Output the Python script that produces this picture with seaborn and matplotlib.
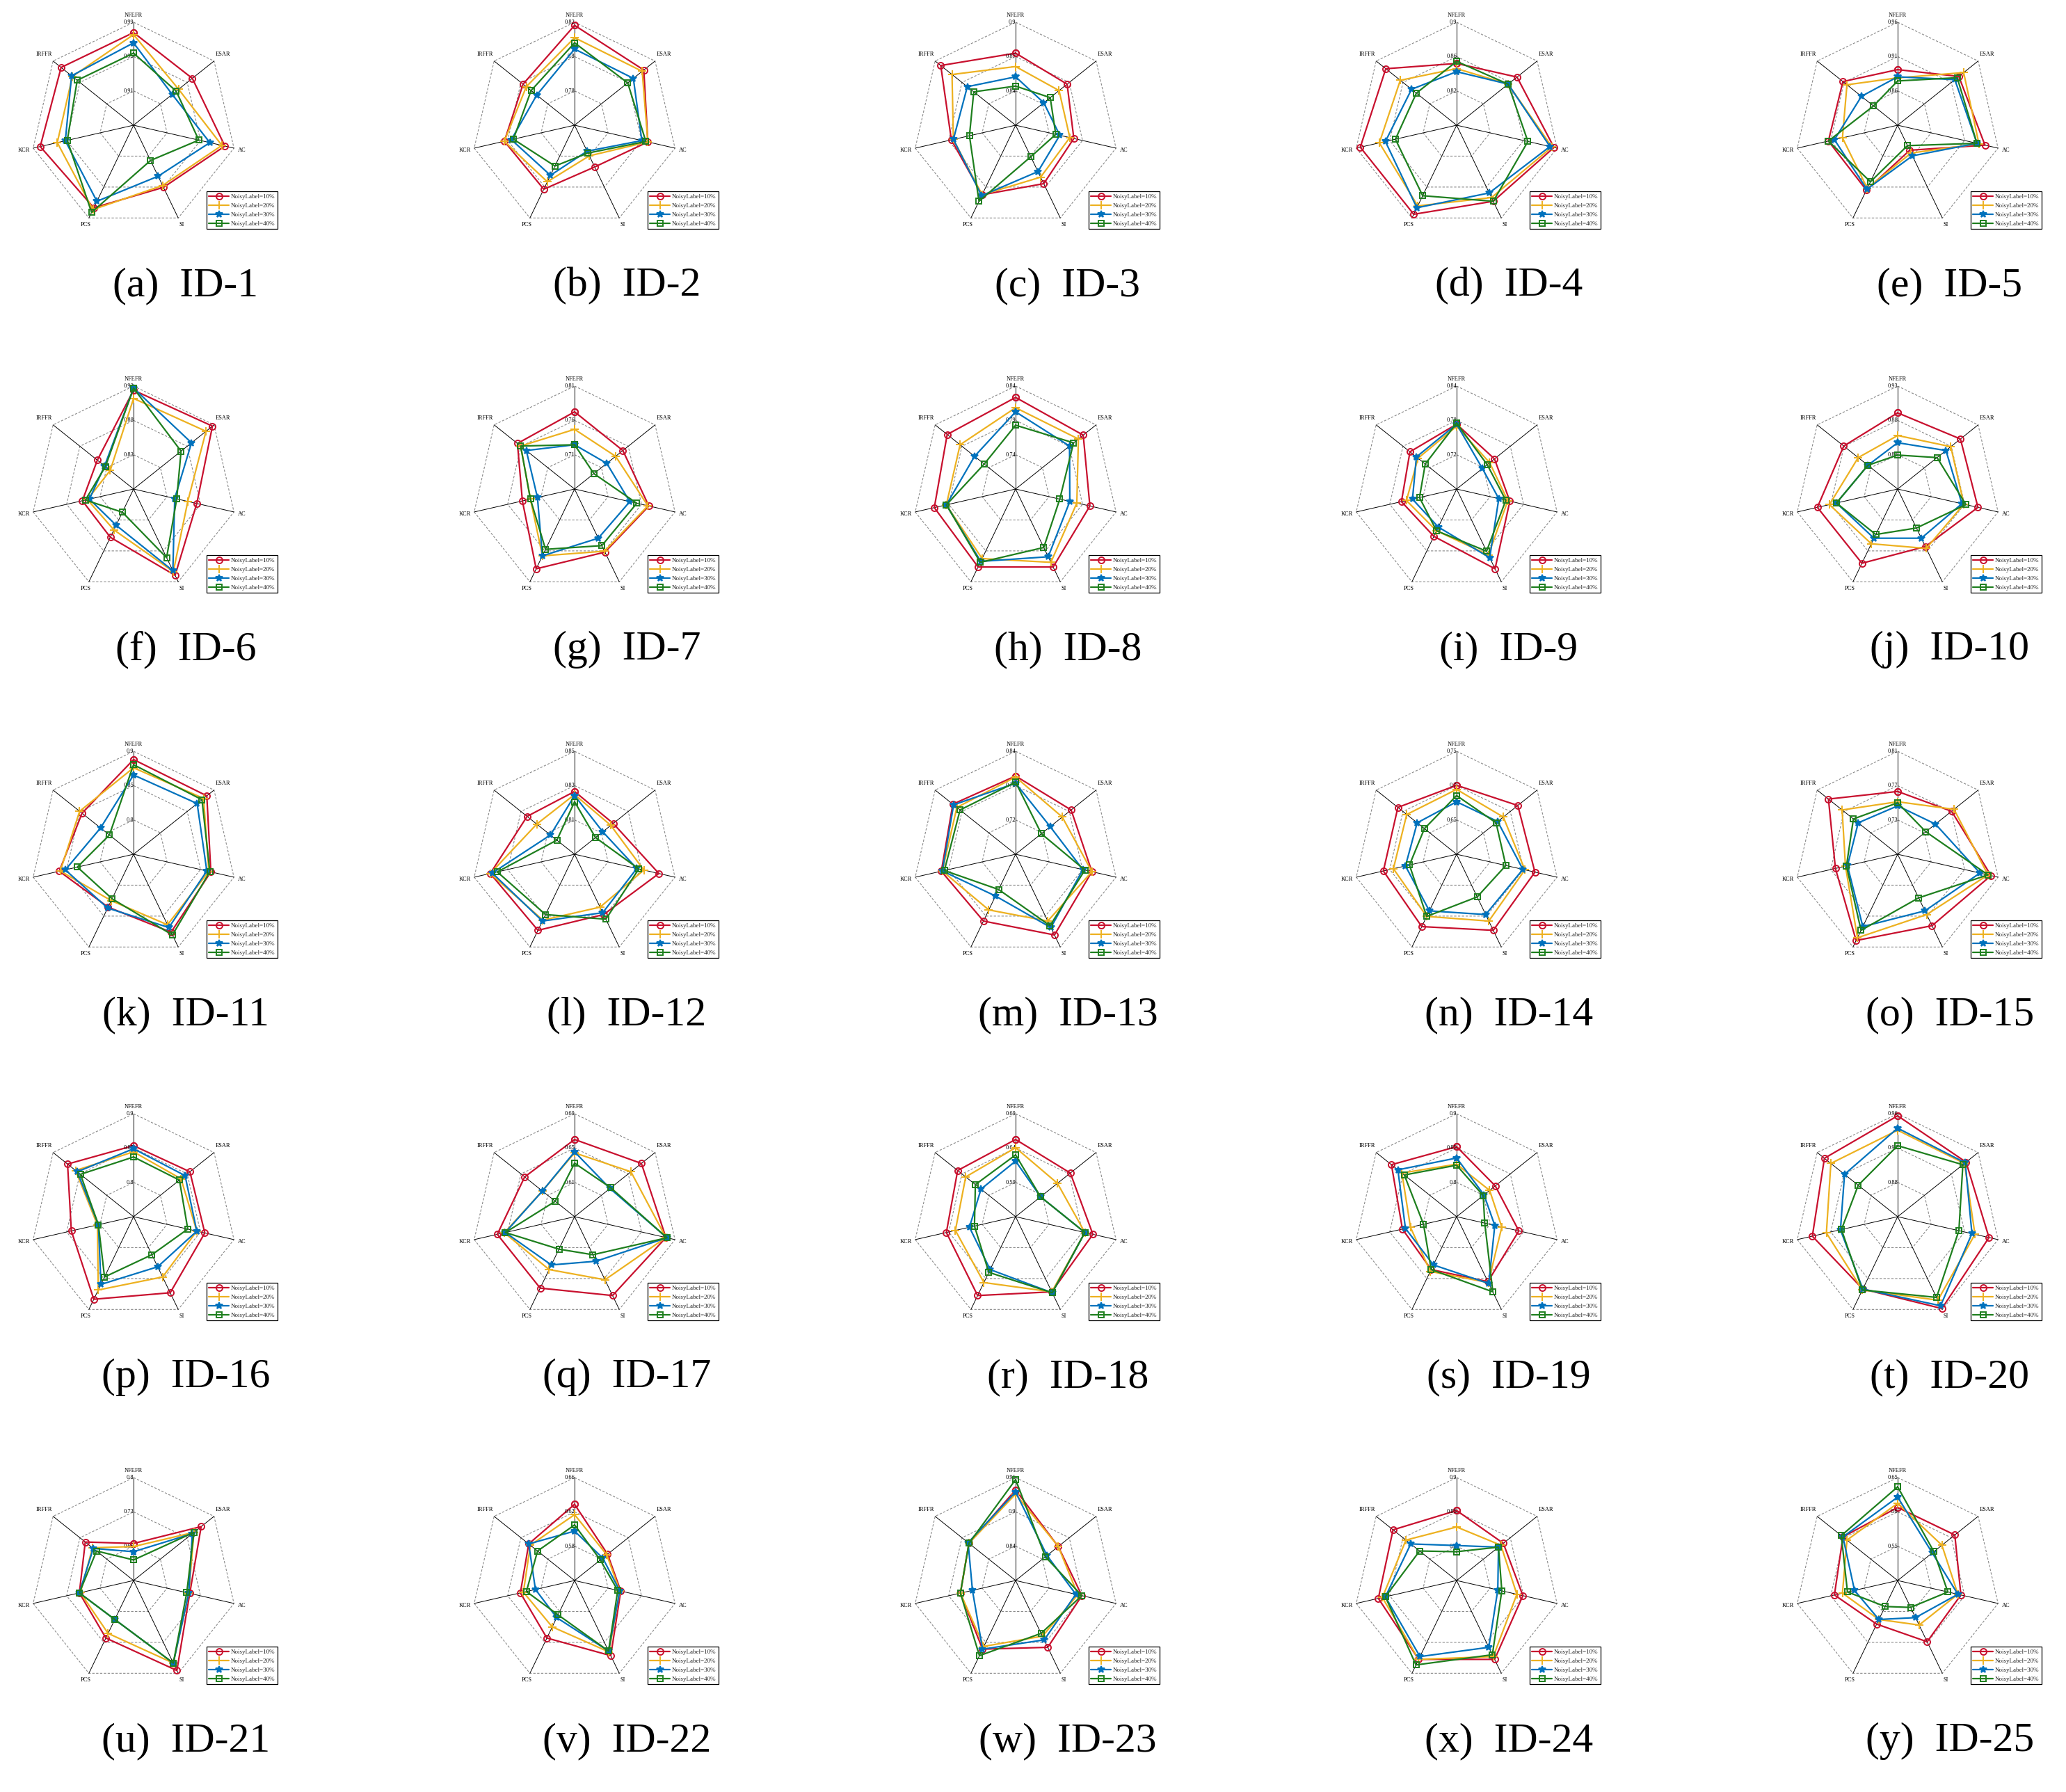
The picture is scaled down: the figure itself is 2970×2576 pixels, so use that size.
import numpy as np
import matplotlib
matplotlib.use("Agg")
import matplotlib.pyplot as plt
import seaborn as sns
import pandas as pd

# ---------------- data ----------------
metrics = ["NFEFR", "ESAR", "AC", "SI", "PCS", "KCR", "IRFFR"]
series_labels = ["NoisyLabel=10%", "NoisyLabel=20%", "NoisyLabel=30%", "NoisyLabel=40%"]
panel_letters = list("abcdefghijklmnopqrstuvwxy")
panel_ids = ["ID-%d" % k for k in range(1, 26)]

# radial tick labels per panel (outer ring, middle ring, inner ring)
tick_labels = [
    ("0.99", "0.95", "0.91"), ("0.82", "0.8", "0.78"), ("0.9", "0.87", "0.84"),
    ("0.9", "0.86", "0.82"), ("0.96", "0.91", "0.86"),
    ("0.93", "0.88", "0.83"), ("0.81", "0.76", "0.71"), ("0.84", "0.79", "0.74"),
    ("0.84", "0.78", "0.72"), ("0.93", "0.88", "0.83"),
    ("0.9", "0.85", "0.8"), ("0.85", "0.83", "0.81"), ("0.84", "0.78", "0.72"),
    ("0.75", "0.7", "0.65"), ("0.81", "0.77", "0.73"),
    ("0.9", "0.85", "0.8"), ("0.69", "0.65", "0.61"), ("0.69", "0.64", "0.59"),
    ("0.9", "0.85", "0.8"), ("0.96", "0.92", "0.88"),
    ("0.8", "0.73", "0.66"), ("0.66", "0.62", "0.58"), ("0.96", "0.9", "0.84"),
    ("0.9", "0.85", "0.8"), ("0.65", "0.6", "0.55"),
]

# scores as position on the radial scale (0 = centre, 1 = outer ring)
# order: NFEFR, ESAR, AC, SI, PCS, KCR, IRFFR
nl10 = [
    [.90, .73, .91, .67, .89, .93, .90], [.97, .86, .73, .45, .69, .70, .64],
    [.70, .64, .58, .63, .75, .64, .93], [.60, .75, .97, .82, .96, .96, .88],
    [.54, .76, .87, .27, .70, .69, .68],
    [.96, .98, .63, .93, .52, .51, .45], [.75, .60, .74, .68, .86, .52, .71],
    [.89, .84, .74, .84, .84, .81, .85], [.63, .47, .53, .86, .51, .55, .58],
    [.74, .78, .80, .62, .80, .80, .67],
    [.92, .91, .77, .84, .57, .74, .64], [.61, .48, .84, .65, .82, .84, .59],
    [.76, .69, .76, .87, .72, .74, .78], [.67, .76, .78, .82, .78, .73, .73],
    [.61, .67, .93, .77, .93, .62, .86],
    [.69, .70, .71, .82, .89, .62, .82], [.75, .83, .91, .85, .77, .77, .62],
    [.75, .68, .77, .81, .85, .69, .72], [.68, .48, .62, .70, .57, .54, .81],
    [.98, .85, .91, .99, .78, .85, .91],
    [.36, .84, .56, .97, .62, .54, .60], [.74, .41, .46, .81, .62, .54, .57],
    [.88, .53, .66, .72, .74, .55, .58], [.68, .58, .66, .85, .85, .78, .79],
    [.71, .71, .63, .66, .47, .63, .68],
]
nl20 = [
    [.88, .56, .88, .65, .91, .76, .76], [.85, .84, .73, .33, .61, .70, .60],
    [.57, .54, .54, .56, .75, .62, .79], [.55, .64, .95, .78, .87, .77, .70],
    [.46, .82, .81, .30, .68, .55, .63],
    [.88, .90, .54, .89, .44, .46, .29], [.58, .51, .73, .67, .72, .44, .67],
    [.79, .78, .61, .79, .75, .69, .69], [.61, .41, .51, .71, .45, .50, .48],
    [.52, .66, .66, .64, .59, .68, .49],
    [.84, .87, .75, .76, .50, .73, .67], [.58, .45, .69, .57, .71, .84, .47],
    [.75, .58, .76, .72, .60, .73, .73], [.63, .58, .68, .72, .67, .63, .62],
    [.51, .70, .90, .65, .90, .52, .69],
    [.63, .59, .63, .65, .79, .36, .72], [.62, .70, .91, .68, .57, .70, .40],
    [.67, .52, .69, .81, .71, .60, .62], [.51, .41, .45, .71, .59, .46, .68],
    [.84, .83, .77, .90, .79, .71, .83],
    [.33, .75, .55, .89, .57, .53, .51], [.64, .40, .45, .77, .50, .51, .55],
    [.84, .53, .62, .60, .71, .55, .58], [.52, .55, .60, .82, .85, .74, .63],
    [.75, .55, .60, .48, .42, .55, .63],
]
nl30 = [
    [.80, .48, .76, .55, .82, .68, .77], [.74, .73, .67, .28, .54, .63, .47],
    [.47, .35, .44, .50, .76, .62, .60], [.52, .64, .93, .73, .89, .71, .56],
    [.47, .71, .79, .33, .69, .63, .45],
    [.98, .72, .41, .88, .39, .44, .36], [.43, .40, .55, .53, .72, .37, .60],
    [.75, .67, .54, .73, .78, .69, .51], [.63, .32, .42, .74, .41, .44, .50],
    [.45, .60, .64, .53, .53, .61, .37],
    [.77, .79, .73, .79, .58, .68, .41], [.57, .35, .62, .63, .72, .82, .30],
    [.69, .43, .67, .79, .45, .73, .77], [.51, .51, .66, .65, .61, .51, .49],
    [.47, .47, .82, .61, .78, .50, .49],
    [.66, .64, .63, .54, .73, .35, .70], [.63, .44, .92, .48, .52, .69, .40],
    [.54, .31, .69, .82, .57, .46, .43], [.57, .34, .38, .72, .52, .51, .73],
    [.86, .84, .74, .96, .78, .57, .66],
    [.28, .73, .55, .89, .42, .54, .50], [.48, .35, .45, .76, .40, .39, .57],
    [.86, .39, .60, .64, .74, .43, .59], [.34, .52, .41, .72, .82, .71, .57],
    [.81, .43, .60, .40, .42, .43, .68],
]
nl40 = [
    [.70, .53, .65, .38, .94, .66, .70], [.80, .66, .71, .30, .44, .61, .54],
    [.38, .43, .40, .34, .82, .46, .52], [.62, .64, .71, .82, .76, .61, .50],
    [.43, .74, .79, .22, .61, .69, .30],
    [.98, .59, .43, .74, .25, .48, .35], [.43, .24, .62, .61, .65, .44, .67],
    [.62, .72, .44, .63, .79, .69, .39], [.64, .38, .49, .67, .45, .37, .39],
    [.33, .49, .68, .42, .49, .61, .37],
    [.87, .85, .76, .87, .48, .56, .30], [.51, .26, .64, .70, .65, .77, .22],
    [.70, .32, .69, .77, .38, .71, .69], [.57, .49, .49, .46, .67, .47, .40],
    [.50, .35, .90, .47, .82, .51, .55],
    [.58, .57, .54, .41, .65, .35, .66], [.52, .45, .92, .41, .35, .69, .24],
    [.60, .31, .69, .82, .60, .41, .50], [.50, .33, .28, .81, .57, .33, .65],
    [.69, .81, .61, .87, .79, .56, .49],
    [.20, .75, .53, .89, .42, .54, .46], [.54, .32, .43, .76, .37, .48, .46],
    [.98, .37, .66, .57, .81, .55, .58], [.28, .52, .45, .80, .91, .71, .46],
    [.91, .45, .50, .29, .28, .50, .70],
]

# ---------------- style ----------------
sns.set_theme(style="white")
plt.rcParams["font.family"] = ["Liberation Serif", "DejaVu Serif"]

colors = ["#C8102E", "#EDB120", "#0072BD", "#1E7F1E"]
markers = ["o", "+", "*", "s"]
msizes = [6.5, 8, 7.5, 5.5]
mfaces = ["none", "none", "#0072BD", "none"]
series_data = [nl10, nl20, nl30, nl40]

W, H = 2970, 2576
fig = plt.figure(figsize=(W / 100, H / 100), dpi=100)
fig.patch.set_facecolor("white")

col_x = [192, 826, 1460, 2094, 2728]
row_y = [180, 703, 1228, 1749, 2272]
R = 148

n = len(metrics)
theta = np.arange(n) * 2 * np.pi / n
th_closed = np.append(theta, 2 * np.pi)
rings = [1 / 3, 2 / 3, 1.0]
label_r = {"NFEFR": 1.07, "ESAR": 1.11, "AC": 1.08, "SI": 1.07,
           "PCS": 1.07, "KCR": 1.09, "IRFFR": 1.11}

for i in range(25):
    r_i, c_i = divmod(i, 5)
    cx, cy = col_x[c_i], row_y[r_i]
    ax = fig.add_axes([(cx - R) / W, 1 - (cy + R) / H, 2 * R / W, 2 * R / H],
                      projection="polar")
    ax.set_theta_offset(np.pi / 2)
    ax.set_theta_direction(-1)
    ax.set_ylim(0, 1)
    ax.grid(False)
    ax.spines["polar"].set_visible(False)
    ax.patch.set_alpha(0)

    # heptagon grid rings
    for lev in rings:
        ax.plot(th_closed, [lev] * len(th_closed), ls=(0, (3, 2)),
                color="#8a8a8a", lw=0.8, clip_on=False, zorder=1)
    # spokes
    for t in theta:
        ax.plot([t, t], [0, 1], color="black", lw=0.7, clip_on=False, zorder=1)

    # series
    for s, data in enumerate(series_data):
        vals = list(data[i]) + [data[i][0]]
        df = pd.DataFrame({"theta": th_closed, "score": vals})
        sns.lineplot(data=df, x="theta", y="score", ax=ax, sort=False,
                     estimator=None, color=colors[s], lw=1.6,
                     marker=markers[s], markersize=msizes[s],
                     markerfacecolor=mfaces[s], markeredgecolor=colors[s],
                     markeredgewidth=1.4, label=series_labels[s],
                     legend=False, clip_on=False, zorder=3 + s)

    ax.set_xticks([])
    ax.set_yticks([])
    ax.set_xlabel("")
    ax.set_ylabel("")

    # axis names
    for k, name in enumerate(metrics):
        ax.text(theta[k], label_r[name], name, ha="center", va="center",
                fontsize=6, color="black")
    # radial tick labels
    outer, mid, inner = tick_labels[i]
    for lev, txt in zip(rings[::-1], [outer, mid, inner]):
        ax.text(0, lev, txt, ha="right", va="center", fontsize=6, color="black")

    leg = ax.legend(loc="lower right", bbox_to_anchor=(1.20, -0.005),
                    fontsize=6.5, frameon=True, fancybox=False, edgecolor="black",
                    framealpha=1, handlelength=3.2, borderpad=0.4,
                    labelspacing=0.5, handletextpad=0.3, borderaxespad=0)
    leg.get_frame().set_linewidth(0.9)

    fig.text((cx + 75) / W, 1 - (cy + 231) / H,
             "(%s)  %s" % (panel_letters[i], panel_ids[i]),
             ha="center", va="center", fontsize=43, color="black")

fig.savefig("out.png", dpi=100, facecolor="white")
